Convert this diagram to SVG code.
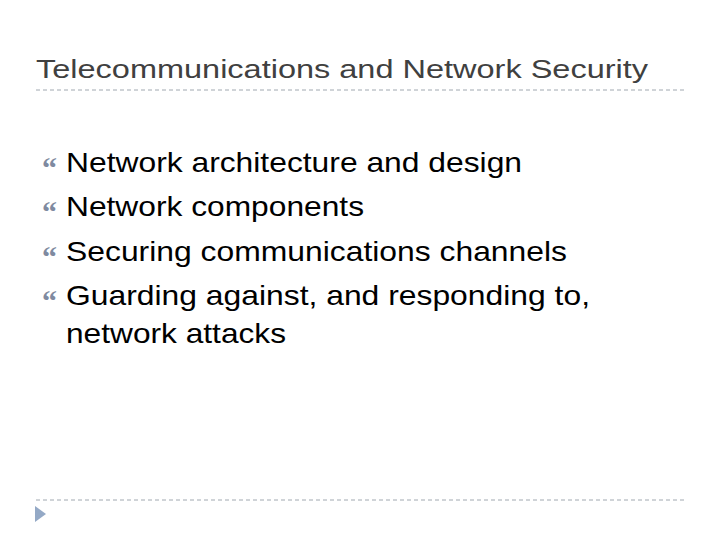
<svg xmlns="http://www.w3.org/2000/svg" width="720" height="540" viewBox="0 0 720 540">
<style>
.t{font-family:"Liberation Sans",Arial,sans-serif;font-size:28px;fill:#000}
.b{font-family:"Liberation Serif",serif;font-size:30px;font-weight:bold;fill:#7f8aa0}
.d{stroke:#a0a8b0;stroke-width:1;stroke-dasharray:4,3}
</style>
<rect width="720" height="540" fill="#fff"/>
<text x="36" y="78" font-family="Liberation Sans,Arial,sans-serif" font-size="26" fill="#404040" textLength="612" lengthAdjust="spacingAndGlyphs">Telecommunications and Network Security</text>
<line class="d" x1="36" y1="90" x2="685" y2="90"/>
<line class="d" x1="36" y1="500" x2="685" y2="500"/>
<polygon points="35,506 46,514 35,522" fill="#94a9c6"/>
<g>
<text class="b" x="42" y="178">“</text><text class="t" x="66" y="172" textLength="456" lengthAdjust="spacingAndGlyphs">Network architecture and design</text>
<text class="b" x="42" y="222">“</text><text class="t" x="66" y="216" textLength="298" lengthAdjust="spacingAndGlyphs">Network components</text>
<text class="b" x="42" y="267">“</text><text class="t" x="66" y="261" textLength="501" lengthAdjust="spacingAndGlyphs">Securing communications channels</text>
<text class="b" x="42" y="311">“</text><text class="t" x="66" y="305" textLength="524" lengthAdjust="spacingAndGlyphs">Guarding against, and responding to,</text>
<text class="t" x="66" y="343" textLength="220" lengthAdjust="spacingAndGlyphs">network attacks</text>
</g>
</svg>
